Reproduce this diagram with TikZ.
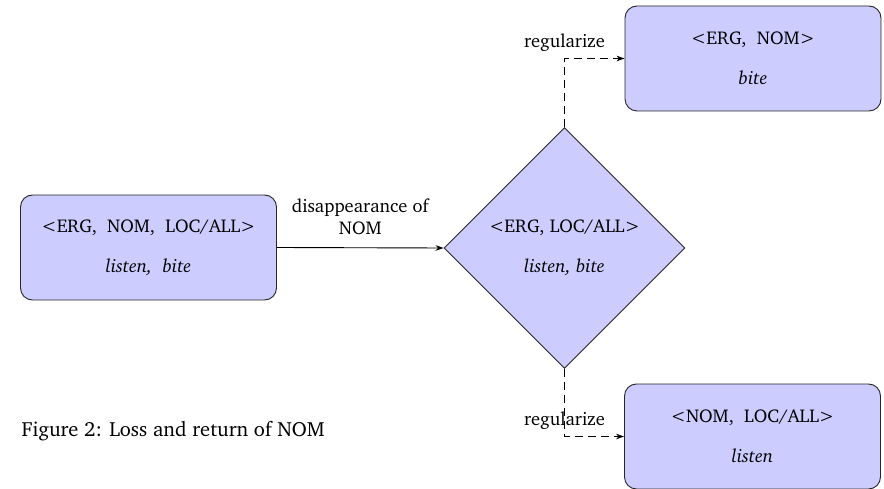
\documentclass[tikz,border=0pt]{standalone}
\usepackage[T1]{fontenc}
\usepackage{charter}
\usetikzlibrary{shapes.geometric,arrows.meta}
\tikzset{
  box/.style={draw=black!85, fill=blue!20, rounded corners=12pt, minimum width=256pt, minimum height=105pt, align=center, inner sep=0pt, line width=0.9pt},
  dia/.style={draw=black!85, fill=blue!20, diamond, aspect=1, minimum size=241pt, align=center, inner sep=0pt, line width=0.9pt},
  conn/.style={line width=0.9pt, -{Stealth[length=8pt,width=5.5pt]}},
  dconn/.style={conn, dash pattern=on 8pt off 5pt},
  lbl/.style={align=center},
}
\begin{document}
\begin{tikzpicture}[x=1pt,y=-1pt, font=\fontsize{18.5}{22}\selectfont]
\useasboundingbox (0,0) rectangle (884,489);
\node[box] (L) at (148.5,247.5) {\textless ERG,\ \ NOM,\ \ LOC/ALL\textgreater\\[18pt]\textit{listen,\ \ bite}};
\node[dia] (D) at (564.5,248) {\textless ERG, LOC/ALL\textgreater\\[18pt]\textit{listen, bite}};
\node[box] (T) at (753,58.5) {\textless ERG,\ \ NOM\textgreater\\[18pt]\textit{bite}};
\node[box] (B) at (752.5,436.5) {\textless NOM,\ \ LOC/ALL\textgreater\\[18pt]\textit{listen}};
\draw[conn] (L.east) -- (D.west) node[lbl, midway, above=9pt] (lab1) {disappearance of\\NOM};
\draw[dconn] (D.north) |- (T.west) node[lbl, pos=0.5, above=3pt] (lab2) {regularize};
\draw[dconn] (D.south) |- (B.west) node[lbl, pos=0.5, above=3pt] (lab3) {regularize};
\node[anchor=west, font=\fontsize{20.5}{24}\selectfont] (cap) at (18,431) {Figure 2: Loss and return of NOM};
\end{tikzpicture}
\end{document}
